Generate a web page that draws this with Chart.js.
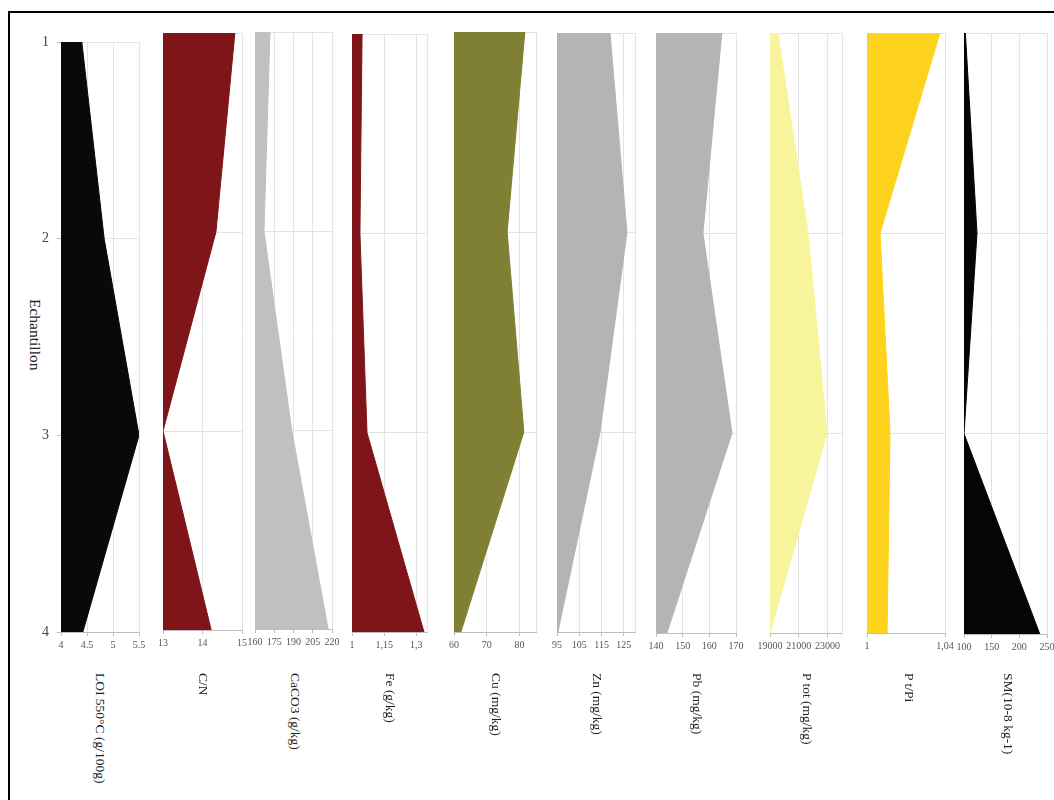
<!DOCTYPE html>
<html><head><meta charset="utf-8">
<script src="https://cdn.jsdelivr.net/npm/chart.js@4.4.0/dist/chart.umd.min.js"></script>
<style>
body{margin:0;background:#fff;width:1054px;height:800px;overflow:hidden;position:relative;font-family:"Liberation Serif","DejaVu Serif",serif;}
#frame{position:absolute;left:8px;top:11px;width:1100px;height:900px;border:2px solid #000;box-sizing:border-box}
.c{position:absolute;top:0}
.t{position:absolute;writing-mode:vertical-rl;font-size:13.5px;color:#222;white-space:nowrap;transform:translateX(-50%);line-height:16px}
</style></head>
<body>
<div id="frame"></div>
<div class="t" id="ylab" style="left:35px;top:299px;font-size:15.5px;">Echantillon</div>
<script>
// ---- data ----
const samples = [1, 2, 3, 4];
const sampleTicks = [1, 2, 3, 4];
const titles = ["LOI 550°C (g/100g)", "C/N", "CaCO3 (g/kg)", "Fe (g/kg)", "Cu (mg/kg)", "Zn (mg/kg)", "Pb (mg/kg)", "P tot (mg/kg)", "P t/Pi", "SM(10-8 kg-1)"];

const loi   = [4.40, 4.83, 5.50, 4.42];
const cn    = [14.82, 14.34, 13.0, 14.22];
const caco3 = [171.7, 167, 188.6, 217];
const fe    = [1.047, 1.037, 1.07, 1.336];
const cu    = [81.6, 76.2, 81.3, 62.1];
const zn    = [118.8, 126.4, 114.3, 95.4];
const pb    = [164.7, 157.6, 168.5, 144.1];
const ptot  = [19556, 21640, 22960, 19000];
const ptpi  = [1.0374, 1.0067, 1.0118, 1.0103];
const sm    = [102.5, 123.5, 100, 237];

const loiTicks = [4, 4.5, 5, 5.5];         const loiLabels = ["4", "4.5", "5", "5.5"];
const cnTicks = [13, 14, 15];              const cnLabels = ["13", "14", "15"];
const caco3Ticks = [160, 175, 190, 205, 220]; const caco3Labels = ["160", "175", "190", "205", "220"];
const feTicks = [1, 1.15, 1.3];            const feLabels = ["1", "1,15", "1,3"];
const cuTicks = [60, 70, 80];              const cuLabels = ["60", "70", "80"];
const znTicks = [95, 105, 115, 125];       const znLabels = ["95", "105", "115", "125"];
const pbTicks = [140, 150, 160, 170];      const pbLabels = ["140", "150", "160", "170"];
const ptotTicks = [19000, 21000, 23000];   const ptotLabels = ["19000", "21000", "23000"];
const ptpiTicks = [1, 1.04];               const ptpiLabels = ["1", "1,04"];
const smTicks = [100, 150, 200, 250];      const smLabels = ["100", "150", "200", "250"];

const axisMin = [4, 13, 160, 1, 60, 95, 140, 19000, 1, 100];
const axisMax = [5.5, 15, 220, 1.35, 85, 130, 170, 24000, 1.04, 250];

// ---- layout / style ----
const series = [loi, cn, caco3, fe, cu, zn, pb, ptot, ptpi, sm];
const tickSets = [loiTicks, cnTicks, caco3Ticks, feTicks, cuTicks, znTicks, pbTicks, ptotTicks, ptpiTicks, smTicks];
const labelSets = [loiLabels, cnLabels, caco3Labels, feLabels, cuLabels, znLabels, pbLabels, ptotLabels, ptpiLabels, smLabels];
const colors = ["#08090b", "#7f1518", "#c0c0c0", "#7f1518", "#7f8033", "#b3b4b3", "#b3b4b3", "#f8f49c", "#fdd31d", "#050505"];
const boxes = [
  {L:61,R:139,T:42,B:632},{L:163,R:242,T:33,B:630},{L:255,R:332,T:32,B:629},{L:352,R:427,T:34,B:632},
  {L:454,R:536,T:32,B:632},{L:557,R:635,T:33,B:632},{L:656,R:736,T:33,B:633},{L:770,R:842,T:33,B:633},
  {L:867,R:945,T:33,B:633},{L:964,R:1047,T:33,B:634}
];
const titleShift = [0, 0, 1, 0, 1, 1, 1, 1, 3, 2];
const PAD = 25, XH = 30, YW = 41;
const gridCol = "#e4e4e4", axisCol = "#bdbdbd", tickFont = {family: "Liberation Serif", size: 10};

boxes.forEach((b, i) => {
  const first = i === 0;
  const left = first ? b.L - YW : b.L - PAD;
  const W = (b.R - left) + PAD, H = b.B + XH;
  const div = document.createElement('div');
  div.className = 'c';
  div.style.left = left + 'px';
  div.style.width = W + 'px'; div.style.height = H + 'px';
  const cv = document.createElement('canvas');
  cv.width = W; cv.height = H; cv.style.width = W + 'px'; cv.style.height = H + 'px';
  div.appendChild(cv);
  document.body.appendChild(div);

  const tv = tickSets[i], tl = labelSets[i], mn = axisMin[i], mx = axisMax[i];
  const allTicks = tv.includes(mx) ? tv.slice() : tv.concat([mx]);

  new Chart(cv, {
    type: 'line',
    data: {
      datasets: [{
        data: samples.map((s, k) => ({x: series[i][k], y: s})),
        backgroundColor: colors[i], borderColor: colors[i], borderWidth: 1,
        pointRadius: 0, tension: 0, fill: {value: mn}
      }]
    },
    options: {
      indexAxis: 'y', responsive: false, animation: false, devicePixelRatio: 1,
      layout: {padding: {left: first ? 0 : PAD, right: PAD, top: b.T, bottom: 0}},
      plugins: {legend: {display: false}, tooltip: {enabled: false}},
      scales: {
        x: {
          type: 'linear', min: mn, max: mx,
          afterBuildTicks: s => { s.ticks = allTicks.map(v => ({value: v})); },
          afterFit: s => { s.height = XH; },
          grid: {color: gridCol, tickLength: 4, tickColor: c => (c.index < tv.length ? axisCol : 'rgba(0,0,0,0)')},
          border: {color: axisCol},
          ticks: {font: tickFont, color: '#555', padding: 3, maxRotation: 0, autoSkip: false,
                  callback: (v, idx) => idx < tl.length ? tl[idx] : ''}
        },
        y: {
          type: 'linear', min: 1, max: 4, reverse: true,
          afterBuildTicks: s => { s.ticks = sampleTicks.map(v => ({value: v})); },
          afterFit: s => { s.width = first ? YW : 0; },
          grid: {color: gridCol, drawTicks: first, tickLength: 4, tickColor: axisCol},
          border: {display: false},
          ticks: {display: first, font: {family: "Liberation Serif", size: 14}, color: '#444', padding: 8,
                  callback: v => String(v)}
        }
      }
    }
  });

  const t = document.createElement('div');
  t.className = 't';
  t.textContent = titles[i];
  t.style.left = ((b.L + b.R) / 2 + titleShift[i]) + 'px';
  t.style.top = '673px';
  document.body.appendChild(t);
});
</script>
</body></html>
